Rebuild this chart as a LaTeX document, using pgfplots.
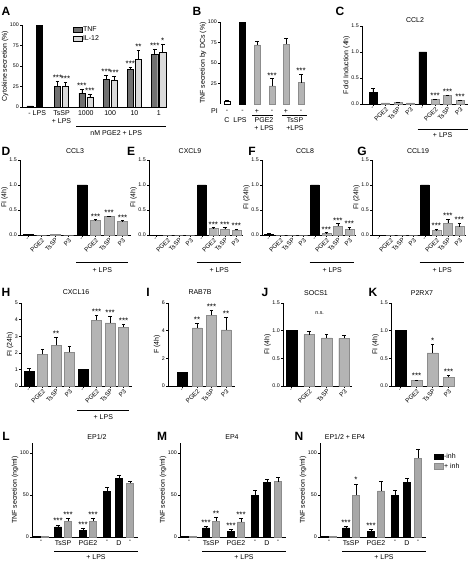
\documentclass[border=0pt]{standalone}
\usepackage{fontspec}
\setmainfont{Liberation Sans}
\usepackage{pgfplots}
\pgfplotsset{compat=1.18}
\definecolor{gbar}{HTML}{B4B4B4}
\definecolor{gedge}{HTML}{8C8C8C}
\definecolor{tnf}{HTML}{707070}
\definecolor{ilc}{HTML}{DADADA}
\definecolor{gL}{HTML}{A8A8A8}
\newcommand\fT{\fontsize{5.3}{6}\selectfont}
\newcommand\fS{\fontsize{8}{7}\selectfont}
\newcommand\fL{\fontsize{7}{8}\selectfont}
\newcommand\fX{\fontsize{6.2}{7}\selectfont}
\newcommand\fP{\fontsize{12}{12}\selectfont\bfseries}
\pgfplotsset{
 gp/.style={scale only axis, clip=false, enlargelimits=false,
   axis x line*=bottom, axis y line*=left,
   axis line style={line width=0.6pt,-},
   every tick/.style={black, line width=0.5pt},
   tick align=outside, major tick length=2pt,
   ticklabel style={font=\fT, inner sep=1pt},
   /pgf/number format/assume math mode=true,
   ylabel style={font=\fL}, ylabel shift=-3pt},
 dec/.style={yticklabel style={/pgf/number format/.cd, fixed, fixed zerofill, precision=1}},
 errs/.style={error bars/y dir=plus, error bars/y explicit,
   error bars/error bar style={line width=0.5pt, black},
   error bars/error mark options={rotate=90, line width=0.5pt, black, mark size=1.8pt}},
 blk/.style={ybar, bar shift=0pt, fill=black, draw=black, line width=0.4pt, errs},
 gry/.style={ybar, bar shift=0pt, fill=gbar, draw=gedge, line width=0.4pt, errs},
 stars/.style={draw=none, mark=none, forget plot, nodes near coords, point meta=explicit symbolic,
   nodes near coords style={font=\fS, anchor=south, inner sep=0.3pt}},
 rot/.style={xtick={1,...,8}, xticklabels={-,PGE2,TsSP,P3,-,PGE2,TsSP,P3},
   xticklabel style={rotate=45, anchor=north east, font=\fX, inner sep=0.5pt}},
 rotf/.style={xtick={1,...,4}, xticklabels={-,PGE2,TsSP,P3},
   xticklabel style={rotate=45, anchor=north east, font=\fX, inner sep=0.5pt}},
 rowtwo/.style={gp, dec, rot, anchor=south west, height=75pt, xmin=0.4, xmax=8.6, ymin=0, ymax=1.5, ytick={0,0.5,1,1.5}},
 rowfour/.style={gp, anchor=south west, width=106pt, height=94pt, xmin=0, xmax=106, ymin=0, ymax=112,
   ytick={0,50,100}, xtick={9,31,56,75,87,98}, xticklabels={-,TsSP,PGE2,-,D,-},
   xticklabel style={font=\fL}, xtick style={draw=none}, ylabel={TNF secretion (ng/ml)}},
}
\begin{document}
\begin{tikzpicture}
\path[use as bounding box] (0,0) rectangle (470pt,-561pt);
% panel letters
\node[font=\fP] at (6pt,-11pt) {A};
\node[font=\fP] at (197pt,-11pt) {B};
\node[font=\fP] at (340pt,-11pt) {C};
\node[font=\fP] at (6pt,-151pt) {D};
\node[font=\fP] at (131pt,-151pt) {E};
\node[font=\fP] at (252pt,-151pt) {F};
\node[font=\fP] at (362pt,-151pt) {G};
\node[font=\fP] at (6pt,-292pt) {H};
\node[font=\fP] at (148pt,-292pt) {I};
\node[font=\fP] at (265pt,-292pt) {J};
\node[font=\fP] at (373pt,-292pt) {K};
\node[font=\fP] at (6pt,-436pt) {L};
\node[font=\fP] at (162pt,-436pt) {M};
\node[font=\fP] at (299pt,-436pt) {N};
% titles
\node[font=\fL] at (415pt,-20pt) {CCL2};
\node[font=\fL] at (75pt,-151pt) {CCL3};
\node[font=\fL] at (190pt,-151pt) {CXCL9};
\node[font=\fL] at (305pt,-151pt) {CCL8};
\node[font=\fL] at (418pt,-151pt) {CCL19};
\node[font=\fL] at (76pt,-292pt) {CXCL16};
\node[font=\fL] at (200pt,-292pt) {RAB7B};
\node[font=\fL] at (316pt,-293pt) {SOCS1};
\node[font=\fL] at (422pt,-293pt) {P2RX7};
\node[font=\fL] at (97pt,-437pt) {EP1/2};
\node[font=\fL] at (232pt,-437pt) {EP4};
\node[font=\fL] at (345pt,-437pt) {EP1/2 + EP4};

% ---------------- A
\begin{axis}[gp, at={(22pt,-107pt)}, anchor=south west, width=144pt, height=82pt,
  xmin=0.375, xmax=6.3, ymin=0, ymax=100, ytick={0,25,50,75,100},
  xtick={1,...,6}, xticklabels={- LPS,{TsSP\\+ LPS},1000,100,10,1},
  xticklabel style={font=\fL, align=center}, xtick style={draw=none},
  ylabel={Cytokine secretion (\%)},
  legend style={at={(0.35,0.99)}, anchor=north west, draw=none, fill=none, font=\fL,
    inner sep=0pt, row sep=0.5pt, nodes={inner sep=1pt}},
  legend cell align=left,
  legend image code/.code={\draw[#1] (0pt,-2pt) rectangle (9pt,2.5pt);}]
\addplot[ybar, bar shift=0pt, bar width=0.25, fill=tnf, draw=black, line width=0.4pt, errs]
  coordinates {(0.7,1.5) (1.835,25) +- (0,7) (2.835,17) +- (0,5) (3.835,34) +- (0,5) (4.835,46) +- (0,3) (5.835,64) +- (0,7)};
\addlegendentry{TNF}
\addplot[ybar, bar shift=0pt, bar width=0.25, fill=ilc, draw=black, line width=0.4pt, errs]
  coordinates {(2.165,25) +- (0,5) (3.165,12) +- (0,4) (4.165,33) +- (0,5) (5.165,58) +- (0,11) (6.165,67) +- (0,10)};
\addlegendentry{IL-12}
\addplot[blk, bar width=0.25, forget plot] coordinates {(1.1,100)};
\addplot[stars] coordinates {(1.835,32)[***] (2.835,22)[***] (3.835,39)[***] (4.835,49)[***] (5.835,71)[***]
  (2.165,30)[***] (3.165,16)[***] (4.165,38)[***] (5.165,69)[**] (6.165,77)[*]};
\draw[line width=0.5pt] ([yshift=-19pt]axis cs:2.6,0) -- ([yshift=-19pt]axis cs:6.3,0);
\node[font=\fL] at ([yshift=-26pt]axis cs:4.25,0) {nM PGE2 + LPS};
\end{axis}

% ---------------- B
\begin{axis}[gp, at={(220pt,-104pt)}, anchor=south west, width=88pt, height=82pt,
  xmin=0, xmax=88, ymin=0, ymax=100, ytick={25,50,75,100},
  x axis line style={draw=none}, xtick=\empty,
  ylabel={TNF secretion by DCs (\%)}]
\addplot[ybar, bar shift=0pt, bar width=6, fill=white, draw=black, line width=0.4pt, errs] coordinates {(7,3) +- (0,1)};
\addplot[blk, bar width=6] coordinates {(22.5,100)};
\addplot[gry, bar width=6] coordinates {(37,72) +- (0,5) (52,22) +- (0,9) (66,73) +- (0,7) (81,26) +- (0,10)};
\addplot[stars] coordinates {(52,31)[***] (81,36)[***]};
\node[font=\fL] at ([yshift=-7pt]axis cs:-5.5,0) {PI};
\node[font=\fL] at ([yshift=-7pt]axis cs:7,0) {-};
\node[font=\fL] at ([yshift=-7pt]axis cs:22.5,0) {-};
\node[font=\fL] at ([yshift=-7pt]axis cs:37,0) {+};
\node[font=\fL] at ([yshift=-7pt]axis cs:52,0) {-};
\node[font=\fL] at ([yshift=-7pt]axis cs:66,0) {+};
\node[font=\fL] at ([yshift=-7pt]axis cs:81,0) {-};
\draw[line width=0.5pt] ([yshift=-11pt]axis cs:32,0) -- ([yshift=-11pt]axis cs:53,0);
\draw[line width=0.5pt] ([yshift=-11pt]axis cs:62,0) -- ([yshift=-11pt]axis cs:87,0);
\node[font=\fL] at ([yshift=-16pt]axis cs:7,0) {C};
\node[font=\fL] at ([yshift=-16pt]axis cs:20,0) {LPS};
\node[font=\fL] at ([yshift=-16pt]axis cs:44,0) {PGE2};
\node[font=\fL] at ([yshift=-16pt]axis cs:75,0) {TsSP};
\node[font=\fL] at ([yshift=-24pt]axis cs:44,0) {+ LPS};
\node[font=\fL] at ([yshift=-24pt]axis cs:75,0) {+LPS};
\end{axis}

% ---------------- C
\begin{axis}[gp, dec, rot, at={(362pt,-104pt)}, anchor=south west, width=106pt, height=78pt,
  xmin=0.12, xmax=8.64, ymin=0, ymax=1.5, ytick={0,0.5,1,1.5},
  ylabel={Fold Induction (4h)}]
\addplot[blk, bar width=0.63] coordinates {(1,0.23) +- (0,0.07) (5,1.0)};
\addplot[gry, bar width=0.63] coordinates {(2,0.02) (3,0.03) +- (0,0.01) (4,0.02) (6,0.09) +- (0,0.01) (7,0.16) +- (0,0.01) (8,0.07) +- (0,0.01)};
\addplot[stars] coordinates {(6,0.10)[***] (7,0.17)[***] (8,0.08)[***]};
\draw[line width=0.5pt] ([yshift=-25pt]axis cs:4.6,0) -- ([yshift=-25pt]axis cs:8.64,0);
\node[font=\fL] at ([yshift=-31pt]axis cs:6.6,0) {+ LPS};
\end{axis}

% ---------------- D
\begin{axis}[rowtwo, at={(20pt,-235pt)}, width=110.7pt, ylabel={FI (4h)}]
\addplot[blk, bar width=0.75] coordinates {(1,0.01) (5,1.0)};
\addplot[gry, bar width=0.75] coordinates {(2,0) (3,0.01) (4,0) (6,0.29) +- (0,0.02) (7,0.37) +- (0,0.01) (8,0.27) +- (0,0.02)};
\addplot[stars] coordinates {(6,0.31)[***] (7,0.38)[***] (8,0.29)[***]};
\draw[line width=0.5pt] ([yshift=-27pt]axis cs:4.55,0) -- ([yshift=-27pt]axis cs:8.4,0);
\node[font=\fL] at ([yshift=-35pt]axis cs:6.5,0) {+ LPS};
\end{axis}

% ---------------- E
\begin{axis}[rowtwo, at={(149pt,-235pt)}, width=94.3pt, ylabel={FI (4h)}]
\addplot[blk, bar width=0.75] coordinates {(1,0) (5,1.0)};
\addplot[gry, bar width=0.75] coordinates {(2,0) (3,0) (4,0) (6,0.13) +- (0,0.02) (7,0.12) +- (0,0.03) (8,0.10) +- (0,0.02)};
\addplot[stars] coordinates {(6,0.15)[***] (7,0.15)[***] (8,0.12)[***]};
\draw[line width=0.5pt] ([yshift=-27pt]axis cs:4.55,0) -- ([yshift=-27pt]axis cs:8.4,0);
\node[font=\fL] at ([yshift=-35pt]axis cs:6.5,0) {+ LPS};
\end{axis}

% ---------------- F
\begin{axis}[rowtwo, at={(262pt,-235pt)}, width=94.3pt, ylabel={FI (24h)}]
\addplot[blk, bar width=0.75] coordinates {(1,0.02) +- (0,0.01) (5,1.0)};
\addplot[gry, bar width=0.75] coordinates {(2,0) (3,0) (4,0) (6,0.04) +- (0,0.01) (7,0.18) +- (0,0.05) (8,0.11) +- (0,0.05)};
\addplot[stars] coordinates {(6,0.05)[***] (7,0.23)[***] (8,0.16)[***]};
\draw[line width=0.5pt] ([yshift=-27pt]axis cs:4.55,0) -- ([yshift=-27pt]axis cs:8.4,0);
\node[font=\fL] at ([yshift=-35pt]axis cs:6.5,0) {+ LPS};
\end{axis}

% ---------------- G
\begin{axis}[rowtwo, at={(372pt,-235pt)}, width=94.3pt, ylabel={FI (24h)}]
\addplot[blk, bar width=0.75] coordinates {(1,0) (5,1.0)};
\addplot[gry, bar width=0.75] coordinates {(2,0) (3,0) (4,0) (6,0.09) +- (0,0.03) (7,0.24) +- (0,0.08) (8,0.17) +- (0,0.07)};
\addplot[stars] coordinates {(6,0.12)[***] (7,0.32)[***] (8,0.24)[***]};
\draw[line width=0.5pt] ([yshift=-27pt]axis cs:4.55,0) -- ([yshift=-27pt]axis cs:8.4,0);
\node[font=\fL] at ([yshift=-35pt]axis cs:6.5,0) {+ LPS};
\end{axis}

% ---------------- H
\begin{axis}[gp, rot, at={(21pt,-386pt)}, anchor=south west, width=110.7pt, height=83pt,
  xmin=0.4, xmax=8.6, ymin=0, ymax=5, ytick={0,1,2,3,4,5}, ylabel={FI (24h)}]
\addplot[blk, bar width=0.75] coordinates {(1,0.87) +- (0,0.2) (5,1.0)};
\addplot[gry, bar width=0.75] coordinates {(2,1.9) +- (0,0.3) (3,2.45) +- (0,0.5) (4,2.02) +- (0,0.4) (6,3.97) +- (0,0.3) (7,3.8) +- (0,0.4) (8,3.53) +- (0,0.2)};
\addplot[stars] coordinates {(3,2.98)[**] (6,4.3)[***] (7,4.23)[***] (8,3.76)[***]};
\draw[line width=0.5pt] ([yshift=-24pt]axis cs:4.55,0) -- ([yshift=-24pt]axis cs:8.4,0);
\node[font=\fL] at ([yshift=-31pt]axis cs:6.5,0) {+ LPS};
\end{axis}

% ---------------- I
\begin{axis}[gp, rotf, at={(168pt,-386pt)}, anchor=south west, width=66.7pt, height=83pt,
  xmin=0, xmax=4.6, ymin=0, ymax=6, ytick={0,2,4,6}, ylabel={F (4h)}]
\addplot[blk, bar width=0.68] coordinates {(1,1.0)};
\addplot[gry, bar width=0.68] coordinates {(2,4.2) +- (0,0.35) (3,5.1) +- (0,0.4) (4,4.05) +- (0,0.9)};
\addplot[stars] coordinates {(2,4.58)[**] (3,5.53)[***] (4,4.98)[**]};
\end{axis}

% ---------------- J
\begin{axis}[gp, dec, rotf, at={(283pt,-386pt)}, anchor=south west, width=69pt, height=83pt,
  xmin=0.5, xmax=4.45, ymin=0, ymax=1.5, ytick={0,0.5,1,1.5}, ylabel={FI (4h)}]
\addplot[blk, bar width=0.62] coordinates {(1,1.0)};
\addplot[gry, bar width=0.62] coordinates {(2,0.93) +- (0,0.06) (3,0.87) +- (0,0.06) (4,0.86) +- (0,0.06)};
\node[font=\fT] at (axis cs:2.6,1.32) {n.s.};
\end{axis}

% ---------------- K
\begin{axis}[gp, dec, rotf, at={(391pt,-386pt)}, anchor=south west, width=64pt, height=83pt,
  xmin=0.4, xmax=4.4, ymin=0, ymax=1.5, ytick={0,0.5,1,1.5}, ylabel={FI (4h)}]
\addplot[blk, bar width=0.68] coordinates {(1,1.0)};
\addplot[gry, bar width=0.68] coordinates {(2,0.1) +- (0,0.01) (3,0.6) +- (0,0.15) (4,0.16) +- (0,0.03)};
\addplot[stars] coordinates {(2,0.12)[***] (3,0.76)[*] (4,0.2)[***]};
\end{axis}

% ---------------- L
\begin{axis}[rowfour, at={(32pt,-537pt)}]
\addplot[blk, bar width=7] coordinates {(5,0.5) (26,12) +- (0,2) (51,8) +- (0,2) (75,54) +- (0,5) (87,70) +- (0,4)};
\addplot[gry, fill=gL, bar width=7] coordinates {(13,0.5) (36,19) +- (0,3) (61,19) +- (0,3) (98,64) +- (0,2)};
\addplot[stars] coordinates {(26,15)[***] (36,23)[***] (51,11)[***] (61,23)[***]};
\draw[line width=0.5pt] ([yshift=-14pt]axis cs:22,0) -- ([yshift=-14pt]axis cs:106,0);
\node[font=\fL] at ([yshift=-20.5pt]axis cs:64,0) {+ LPS};
\end{axis}

% ---------------- M
\begin{axis}[rowfour, at={(180pt,-537pt)}]
\addplot[blk, bar width=7] coordinates {(5,0.5) (26,11) +- (0,1.5) (51,7) +- (0,2) (75,50) +- (0,6) (87,65) +- (0,4)};
\addplot[gry, fill=gL, bar width=7] coordinates {(13,0.5) (36,19) +- (0,4) (61,18) +- (0,4) (98,66) +- (0,5)};
\addplot[stars] coordinates {(26,13.5)[***] (36,24)[**] (51,10)[***] (61,23)[***]};
\draw[line width=0.5pt] ([yshift=-14pt]axis cs:22,0) -- ([yshift=-14pt]axis cs:106,0);
\node[font=\fL] at ([yshift=-20.5pt]axis cs:64,0) {+ LPS};
\end{axis}

% ---------------- N
\begin{axis}[rowfour, at={(320pt,-537pt)},
  legend style={at={(1.07,0.9)}, anchor=north west, draw=none, fill=none, font=\fL,
    inner sep=0pt, row sep=1pt, nodes={inner sep=1pt}},
  legend cell align=left,
  legend image code/.code={\draw[#1] (0pt,-2.5pt) rectangle (9pt,3pt);}]
\addplot[blk, bar width=7] coordinates {(5,0.5) (26,11) +- (0,1.5) (51,7) +- (0,2) (75,50) +- (0,6) (87,65) +- (0,5)};
\addlegendentry{-inh}
\addplot[gry, fill=gL, bar width=7] coordinates {(13,0.5) (36,50) +- (0,13) (61,55) +- (0,11) (98,94) +- (0,11)};
\addlegendentry{+ inh}
\addplot[stars] coordinates {(26,13.5)[***] (36,64)[*] (51,10)[***]};
\draw[line width=0.5pt] ([yshift=-14pt]axis cs:22,0) -- ([yshift=-14pt]axis cs:106,0);
\node[font=\fL] at ([yshift=-20.5pt]axis cs:64,0) {+ LPS};
\end{axis}
\end{tikzpicture}
\end{document}
